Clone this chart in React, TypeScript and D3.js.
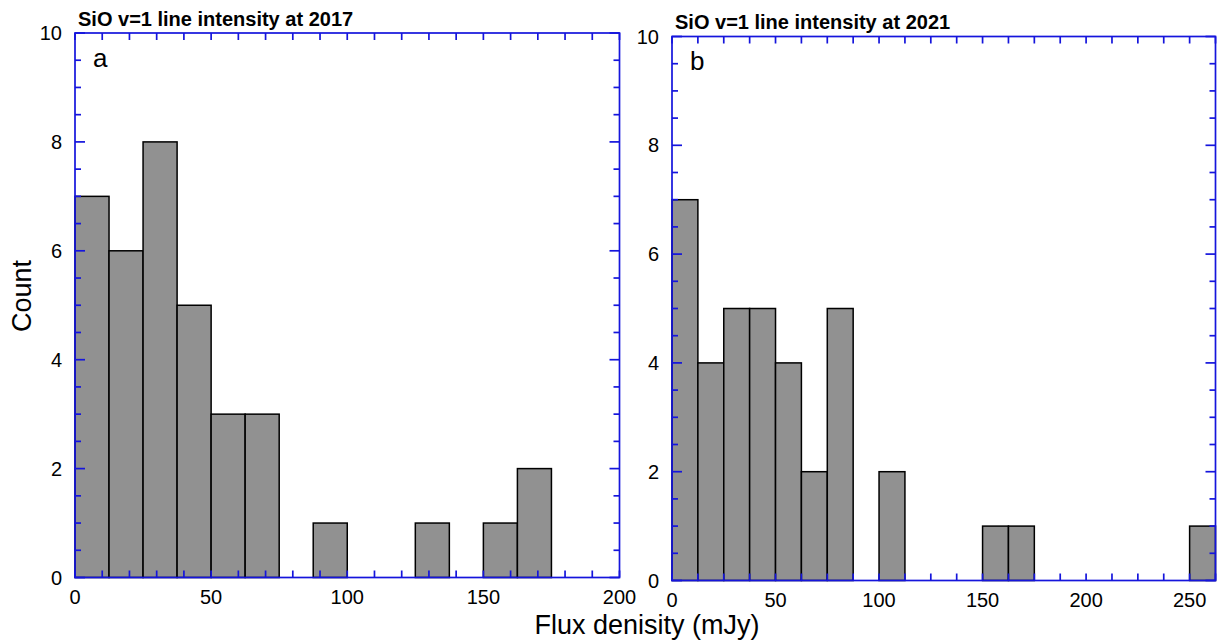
import React from "react";
import * as d3 from "d3";

const BIN_WIDTH = 12.5;
const counts2017 = [7, 6, 8, 5, 3, 3, 0, 1, 0, 0, 1, 0, 1, 2];
const counts2021 = [7, 4, 5, 5, 4, 2, 5, 0, 2, 0, 0, 0, 1, 1, 0, 0, 0, 0, 0, 0, 1];
const xTickLabels2017 = [0, 50, 100, 150, 200];
const xTickLabels2021 = [0, 50, 100, 150, 200, 250];
const yTickLabels = [0, 2, 4, 6, 8, 10];
const titles = ["SiO v=1 line intensity at 2017", "SiO v=1 line intensity at 2021"];
const panelLetters = ["a", "b"];

const AXIS = "#1515dc";
const FONT = "'Liberation Sans', Arial, Helvetica, sans-serif";

type PanelProps = {
  counts: number[];
  xMax: number;
  xMinorStep: number;
  xLabels: number[];
  left: number;
  right: number;
  top: number;
  bottom: number;
  title: string;
  letter: string;
};

function Panel(p: PanelProps) {
  const x = d3.scaleLinear().domain([0, p.xMax]).range([p.left, p.right]);
  const y = d3.scaleLinear().domain([0, 10]).range([p.bottom, p.top]);
  const xTicks = d3.range(0, p.xMax + 1e-6, p.xMinorStep);
  const yTicks = d3.range(0, 10 + 1e-6, 0.5);
  const bars = p.counts
    .map((c, i) => ({ x0: i * BIN_WIDTH, x1: (i + 1) * BIN_WIDTH, c }))
    .filter((b) => b.c > 0);
  return (
    <g>
      {bars.map((b, i) => (
        <rect
          key={i}
          x={x(b.x0)}
          y={y(b.c)}
          width={x(b.x1) - x(b.x0)}
          height={y(0) - y(b.c)}
          fill="#919191"
          stroke="#000"
          strokeWidth={1.5}
        />
      ))}
      <g stroke={AXIS} strokeWidth={1.7} fill="none">
        <rect x={p.left} y={p.top} width={p.right - p.left} height={p.bottom - p.top} />
        {xTicks.map((t, i) => (
          <g key={"x" + i}>
            <line x1={x(t)} x2={x(t)} y1={p.bottom} y2={p.bottom - 7} />
            <line x1={x(t)} x2={x(t)} y1={p.top} y2={p.top + 7} />
          </g>
        ))}
        {yTicks.map((t, i) => {
          const len = Math.abs(t % 2) < 1e-6 ? 10 : 6;
          return (
            <g key={"y" + i}>
              <line x1={p.left} x2={p.left + len} y1={y(t)} y2={y(t)} />
              <line x1={p.right} x2={p.right - len} y1={y(t)} y2={y(t)} />
            </g>
          );
        })}
      </g>
      <g fontFamily={FONT} fontSize={20} fill="#000">
        {p.xLabels.map((t) => (
          <text key={"xl" + t} x={x(t)} y={p.bottom + 26} textAnchor="middle">
            {t}
          </text>
        ))}
        {yTickLabels.map((t) => (
          <text key={"yl" + t} x={p.left - 13} y={y(t) + 7} textAnchor="end">
            {t}
          </text>
        ))}
      </g>
      <text x={p.left + 3} y={p.top - 7.5} fontFamily={FONT} fontWeight="bold" fontSize={20} fill="#000">
        {p.title}
      </text>
      <text x={p.left + 18} y={p.top + 33.5} fontFamily={FONT} fontSize={26} fill="#000">
        {p.letter}
      </text>
    </g>
  );
}

export default function App() {
  return (
    <svg
      width={1217}
      height={642}
      style={{ position: "absolute", left: 0, top: 0, background: "#fff" }}
    >
      <rect width={1217} height={642} fill="#fff" />
      <Panel
        counts={counts2017}
        xMax={200}
        xMinorStep={10}
        xLabels={xTickLabels2017}
        left={75}
        right={619.5}
        top={33}
        bottom={577.5}
        title={titles[0]}
        letter={panelLetters[0]}
      />
      <Panel
        counts={counts2021}
        xMax={262.5}
        xMinorStep={12.5}
        xLabels={xTickLabels2021}
        left={672}
        right={1215.5}
        top={36.5}
        bottom={580.5}
        title={titles[1]}
        letter={panelLetters[1]}
      />
      <text
        transform="translate(31,296) rotate(-90)"
        textAnchor="middle"
        fontFamily={FONT}
        fontSize={27}
        fill="#000"
      >
        Count
      </text>
      <text x={647} y={634} textAnchor="middle" fontFamily={FONT} fontSize={27} fill="#000">
        Flux denisity (mJy)
      </text>
    </svg>
  );
}
